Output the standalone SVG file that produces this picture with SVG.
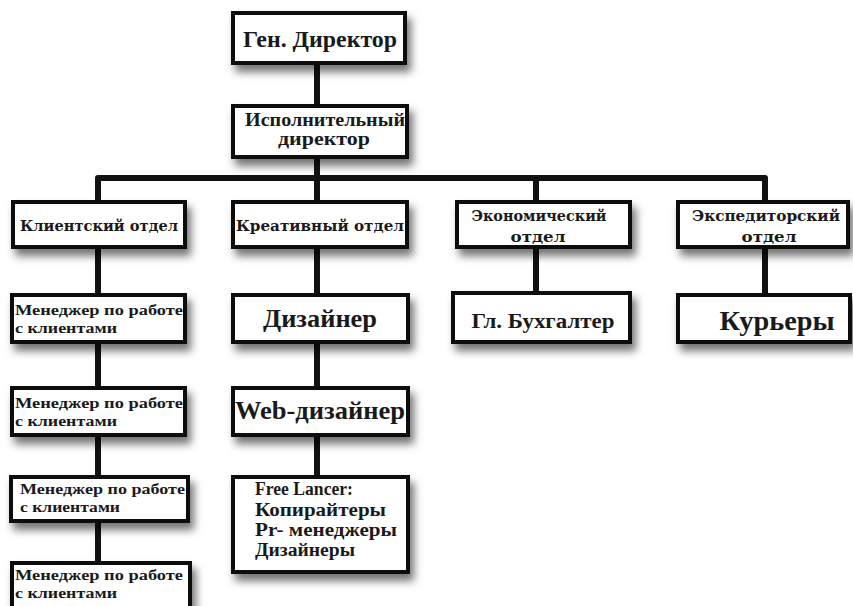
<svg xmlns="http://www.w3.org/2000/svg" width="853" height="606" viewBox="0 0 853 606">
<defs>
<filter id="sh" x="-20%" y="-30%" width="150%" height="180%">
<feDropShadow dx="4" dy="7" stdDeviation="4" flood-color="#000" flood-opacity="0.55"/>
</filter>
</defs>
<style>
.b{fill:#fff;stroke:#111;stroke-width:4;filter:url(#sh)}
.c{stroke:#111;stroke-width:6;fill:none;stroke-linejoin:round}
text{font-family:"Liberation Serif","DejaVu Serif",serif;fill:#1a1a1a;font-weight:bold}
.m{text-anchor:middle}
.d{font-size:14px;font-family:"DejaVu Serif","Liberation Serif",serif}
.mg{font-size:15px}
.fl{font-size:18px}
</style>
<rect width="853" height="606" fill="#fff"/>
<g id="connectors">
<path class="c" d="M317 63V106M317 157V178M98 202V178H765V202M317 178V202M536 178V202"/>
<path class="c" d="M98 247V600M317 247V477M536 247V293M765 247V295"/>
</g>
<g id="gen"><rect class="b" x="233" y="13" width="172" height="50"/><text class="m" x="320" y="47" font-size="24" textLength="154" lengthAdjust="spacingAndGlyphs">Ген. Директор</text></g>
<g id="exec"><rect class="b" x="233" y="106" width="174" height="51"/><text class="m" x="325" y="126" font-size="18" textLength="160" lengthAdjust="spacingAndGlyphs">Исполнительный</text><text class="m" x="324" y="145" font-size="18" textLength="92" lengthAdjust="spacingAndGlyphs">директор</text></g>
<g id="client"><rect class="b" x="13" y="202" width="172" height="45"/><text class="m d" x="99" y="231" textLength="158" lengthAdjust="spacingAndGlyphs">Клиентский отдел</text></g>
<g id="creative"><rect class="b" x="233" y="202" width="174" height="45"/><text class="m d" x="320" y="231" textLength="168" lengthAdjust="spacingAndGlyphs">Креативный отдел</text></g>
<g id="econ"><rect class="b" x="457" y="202" width="173" height="45"/><text class="m d" x="539" y="221" textLength="135" lengthAdjust="spacingAndGlyphs">Экономический</text><text class="m d" x="538" y="242" textLength="55" lengthAdjust="spacingAndGlyphs">отдел</text></g>
<g id="exped"><rect class="b" x="678" y="202" width="170" height="45"/><text class="m d" x="766" y="221" textLength="148" lengthAdjust="spacingAndGlyphs">Экспедиторский</text><text class="m d" x="769" y="242" textLength="55" lengthAdjust="spacingAndGlyphs">отдел</text></g>
<g id="m1"><rect class="b" x="12" y="295" width="173" height="47"/><text class="mg" x="15" y="315" textLength="168" lengthAdjust="spacingAndGlyphs">Менеджер по работе</text><text class="mg" x="15" y="333" textLength="102" lengthAdjust="spacingAndGlyphs">с клиентами</text></g>
<g id="m2"><rect class="b" x="12" y="388" width="173" height="47"/><text class="mg" x="15" y="408" textLength="168" lengthAdjust="spacingAndGlyphs">Менеджер по работе</text><text class="mg" x="15" y="426" textLength="102" lengthAdjust="spacingAndGlyphs">с клиентами</text></g>
<g id="m3"><rect class="b" x="11" y="477" width="177" height="44"/><text class="mg" x="20" y="494" textLength="165" lengthAdjust="spacingAndGlyphs">Менеджер по работе</text><text class="mg" x="20" y="512" textLength="100" lengthAdjust="spacingAndGlyphs">с клиентами</text></g>
<g id="m4"><rect class="b" x="12" y="563" width="178" height="50"/><text class="mg" x="15" y="580" textLength="168" lengthAdjust="spacingAndGlyphs">Менеджер по работе</text><text class="mg" x="15" y="598" textLength="102" lengthAdjust="spacingAndGlyphs">с клиентами</text></g>
<g id="designer"><rect class="b" x="233" y="295" width="175" height="47"/><text class="m" x="320" y="327" font-size="26" textLength="114" lengthAdjust="spacingAndGlyphs">Дизайнер</text></g>
<g id="web"><rect class="b" x="233" y="388" width="175" height="47"/><text class="m" x="320" y="419" font-size="25" textLength="170" lengthAdjust="spacingAndGlyphs">Web-дизайнер</text></g>
<g id="free"><rect class="b" x="233" y="477" width="175" height="95"/><text class="fl" x="255" y="495" textLength="98" lengthAdjust="spacingAndGlyphs">Free Lancer:</text><text class="fl" x="255" y="516" textLength="131" lengthAdjust="spacingAndGlyphs">Копирайтеры</text><text class="fl" x="255" y="536" textLength="142" lengthAdjust="spacingAndGlyphs">Pr- менеджеры</text><text class="fl" x="255" y="556" textLength="100" lengthAdjust="spacingAndGlyphs">Дизайнеры</text></g>
<g id="buh"><rect class="b" x="453" y="293" width="177" height="49"/><text class="m" x="543" y="328" font-size="22" textLength="143" lengthAdjust="spacingAndGlyphs">Гл. Бухгалтер</text></g>
<g id="courier"><rect class="b" x="678" y="295" width="172" height="47"/><text class="m" x="777" y="330" font-size="27" textLength="115" lengthAdjust="spacingAndGlyphs">Курьеры</text></g>
</svg>
